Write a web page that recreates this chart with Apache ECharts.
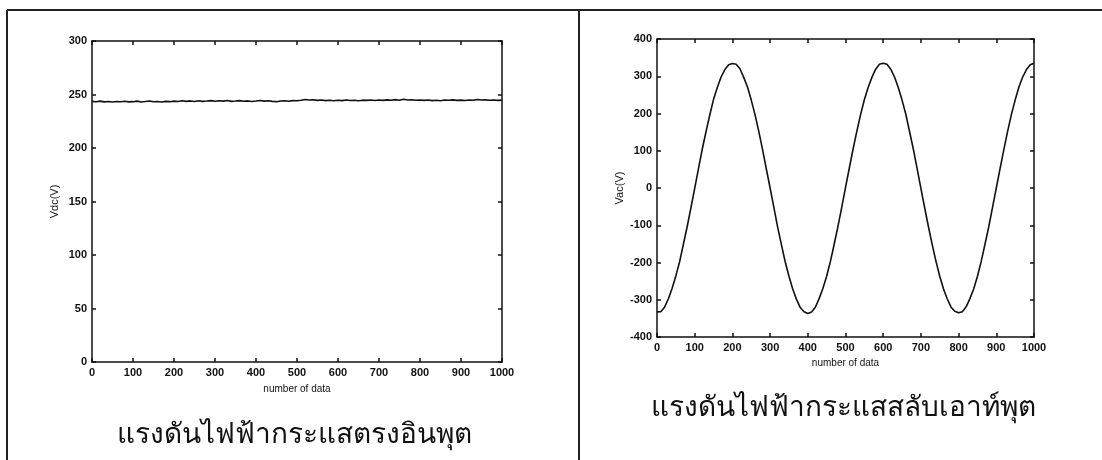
<!DOCTYPE html>
<html>
<head>
<meta charset="utf-8">
<script src="https://cdn.jsdelivr.net/npm/echarts@6/dist/echarts.min.js"></script>
<style>
  html, body { margin: 0; padding: 0; background: #fff; }
  #chart { width: 1102px; height: 460px; }
</style>
</head>
<body>
<div id="chart"></div>
<script>
// Sample spacing along the "number of data" axis
const sampleStep = 10;

// DC input voltage (V), one reading every 10 samples
const dcValues = [
  243.6,243.2,243.8,243.1,243.4,243.0,243.5,243.2,243.7,243.1,
  243.3,243.8,243.0,243.4,243.9,243.2,243.5,243.0,243.6,243.3,
  243.8,243.4,244.2,243.6,244.0,243.5,244.1,243.6,243.9,244.3,
  243.7,244.2,243.8,244.4,243.6,243.9,244.3,243.7,244.0,243.5,
  243.9,244.4,243.8,244.1,243.6,243.3,243.9,244.2,243.7,244.3,
  244.1,244.6,245.4,244.8,245.1,244.5,244.9,244.3,244.7,244.2,
  244.6,244.3,244.8,244.4,244.6,244.2,244.7,244.5,244.9,244.4,
  244.8,244.5,245.0,244.6,245.2,244.7,245.6,244.9,245.1,244.6,
  244.9,244.5,244.8,244.3,244.7,244.2,244.9,244.6,245.0,244.5,
  244.7,244.4,244.9,244.6,245.3,244.8,245.0,244.6,244.9,244.5,244.7
];

// AC output voltage (V), one reading every 10 samples
const acValues = [
  -333,-332,-320,-298,-270,-236,-198,-151,-104,-53,-1,52,104,151,196,238,270,298,318,331,334,
  332,320,297,271,236,197,152,103,51,0,-52,-105,-152,-198,-237,-271,-299,-321,-332,-337,
  -333,-320,-297,-270,-237,-197,-151,-103,-52,1,53,104,152,197,237,270,297,319,332,335,
  332,319,298,270,236,198,151,104,52,-1,-53,-104,-152,-197,-237,-271,-298,-320,-331,-335,
  -332,-319,-297,-271,-237,-197,-151,-104,-52,0,52,103,152,197,236,271,298,318,331,335
];

// Axis settings
const xRange = [0, 1000, 100];
const dcRange = [0, 300, 50];
const acRange = [-400, 400, 100];

const xName = 'number of data';
const dcName = 'Vdc(V)';
const acName = 'Vac(V)';
const dcTitle = 'แรงดันไฟฟ้ากระแสตรงอินพุต';
const acTitle = 'แรงดันไฟฟ้ากระแสสลับเอาท์พุต';

const toPairs = vals => vals.map((v, i) => [i * sampleStep, v]);

const ink = '#111';
const labelFont = {
  color: ink, fontSize: 11, fontFamily: 'Liberation Sans, Arial, sans-serif', fontWeight: 'bold',
  formatter: v => String(v)
};

function xAxisDef(grid, pos, withLabels, gap) {
  return {
    type: 'value', gridIndex: grid, position: pos,
    min: xRange[0], max: xRange[1], interval: xRange[2],
    axisLine: { show: true, onZero: false, lineStyle: { color: ink, width: 1.5 } },
    axisTick: { show: true, inside: true, length: 4, lineStyle: { color: ink, width: 1.5 } },
    axisLabel: Object.assign({ show: withLabels, margin: 5 }, labelFont),
    splitLine: { show: false },
    name: withLabels ? xName : '',
    nameLocation: 'middle', nameGap: gap,
    nameTextStyle: { color: ink, fontSize: 10, fontFamily: 'Liberation Sans, Arial, sans-serif' }
  };
}

function yAxisDef(grid, pos, range, withLabels, name) {
  return {
    type: 'value', gridIndex: grid, position: pos,
    min: range[0], max: range[1], interval: range[2],
    axisLine: { show: true, onZero: false, lineStyle: { color: ink, width: 1.5 } },
    axisTick: { show: true, inside: true, length: 4, lineStyle: { color: ink, width: 1.5 } },
    axisLabel: Object.assign({ show: withLabels, margin: 5 }, labelFont),
    splitLine: { show: false },
    name: withLabels ? name : '',
    nameLocation: 'middle', nameGap: 32,
    nameTextStyle: { color: ink, fontSize: 11, fontFamily: 'Liberation Sans, Arial, sans-serif' }
  };
}

const chart = echarts.init(document.getElementById('chart'), null, { renderer: 'canvas' });

chart.setOption({
  animation: false,
  backgroundColor: '#fff',
  grid: [
    { left: 92, top: 41, width: 410, height: 321 },
    { left: 657, top: 39, width: 377, height: 298 }
  ],
  xAxis: [
    xAxisDef(0, 'bottom', true, 22),
    xAxisDef(0, 'top', false, 0),
    xAxisDef(1, 'bottom', true, 20),
    xAxisDef(1, 'top', false, 0)
  ],
  yAxis: [
    yAxisDef(0, 'left', dcRange, true, dcName),
    yAxisDef(0, 'right', dcRange, false, ''),
    yAxisDef(1, 'left', acRange, true, acName),
    yAxisDef(1, 'right', acRange, false, '')
  ],
  series: [
    {
      type: 'line', xAxisIndex: 0, yAxisIndex: 0,
      data: toPairs(dcValues), showSymbol: false, silent: true,
      lineStyle: { color: ink, width: 1.6 }
    },
    {
      type: 'line', xAxisIndex: 2, yAxisIndex: 2,
      data: toPairs(acValues), showSymbol: false, silent: true,
      lineStyle: { color: ink, width: 1.6 }
    }
  ],
  graphic: [
    // table frame: top rule, left rule, and the divider between the two panels
    { type: 'line', shape: { x1: 7, y1: 10, x2: 1102, y2: 10 }, style: { stroke: '#222', lineWidth: 2 } },
    { type: 'line', shape: { x1: 7, y1: 10, x2: 7, y2: 460 }, style: { stroke: '#222', lineWidth: 2 } },
    { type: 'line', shape: { x1: 579, y1: 10, x2: 579, y2: 460 }, style: { stroke: '#222', lineWidth: 2 } },
    // panel captions
    {
      type: 'text', x: 294, y: 435,
      style: { text: dcTitle, fill: ink, fontSize: 28, fontFamily: 'Noto Sans, DejaVu Sans, sans-serif', align: 'center', verticalAlign: 'middle' }
    },
    {
      type: 'text', x: 843, y: 408,
      style: { text: acTitle, fill: ink, fontSize: 28, fontFamily: 'Noto Sans, DejaVu Sans, sans-serif', align: 'center', verticalAlign: 'middle' }
    }
  ]
});
</script>
</body>
</html>
